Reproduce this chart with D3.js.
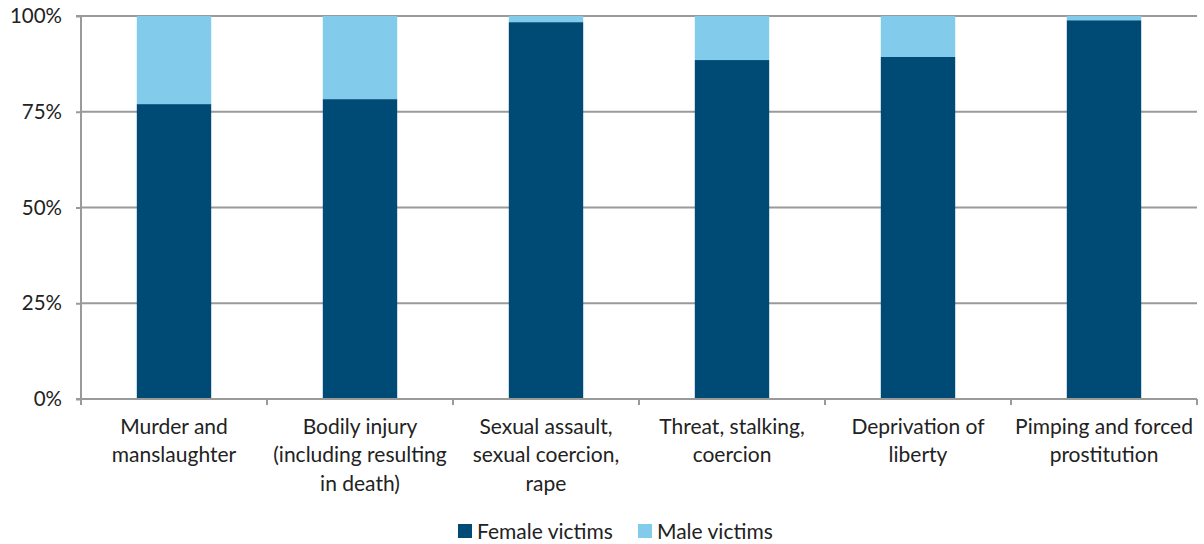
<!DOCTYPE html>
<html><head><meta charset="utf-8">
<script src="https://cdn.jsdelivr.net/npm/d3@7"></script>
<style>body{margin:0;background:#fff;} text{font-family:Lato, "Open Sans", sans-serif;fill:#222;}</style>
</head><body><svg id="c" width="1204" height="544"></svg>
<script>
const categories = [
  ["Murder and","manslaughter"],
  ["Bodily injury","(including resulting","in death)"],
  ["Sexual assault,","sexual coercion,","rape"],
  ["Threat, stalking,","coercion"],
  ["Deprivation of","liberty"],
  ["Pimping and forced","prostitution"]
];
const femaleVictims = [77.0, 78.3, 98.4, 88.5, 89.3, 98.9];
const maleVictims = femaleVictims.map(v => 100 - v);
const seriesNames = ["Female victims","Male victims"];
const colors = ["#004a76","#82cbeb"];
const yTicks = [0,25,50,75,100];

const svg = d3.select("#c");
const m = {l:81, r:1197, t:16, b:399};
const x = d3.scaleBand().domain(d3.range(categories.length)).range([m.l,m.r]).paddingInner(0.6).paddingOuter(0.3);
const xb = d3.scaleBand().domain(d3.range(categories.length)).range([m.l,m.r]);
const y = d3.scaleLinear().domain([0,100]).range([m.b,m.t]);

// gridlines
svg.append("g").selectAll("line").data(yTicks.filter(d=>d>0)).join("line")
  .attr("x1",m.l).attr("x2",m.r).attr("y1",d=>y(d)).attr("y2",d=>y(d))
  .attr("stroke","#9a9a9a").attr("stroke-width",2);

// bars
const stackData = categories.map((c,i)=>({i, f:femaleVictims[i], m:maleVictims[i]}));
const stack = d3.stack().keys(["f","m"])(stackData);
svg.append("g").selectAll("g").data(stack).join("g").attr("fill",(d,k)=>colors[k])
  .selectAll("rect").data(d=>d).join("rect")
  .attr("x",d=>x(d.data.i)).attr("width",x.bandwidth())
  .attr("y",d=>y(d[1])).attr("height",d=>y(d[0])-y(d[1]));

// y axis
const ya = svg.append("g").attr("transform",`translate(${m.l},0)`)
  .call(d3.axisLeft(y).tickValues(yTicks).tickFormat(d=>d+"%").tickSize(5).tickPadding(14));
ya.select(".domain").attr("stroke","#9a9a9a").attr("stroke-width",2).attr("d",`M-5,${m.t}H0V${m.b}H-5`);
ya.selectAll(".tick line").attr("stroke","#9a9a9a").attr("stroke-width",2);
ya.selectAll("text").attr("font-size",20.5).attr("fill","#222").style("font-family","Lato, sans-serif");

// x axis
const xa = svg.append("g").attr("transform",`translate(0,${m.b})`);
xa.append("line").attr("x1",m.l).attr("x2",m.r).attr("stroke","#9a9a9a").attr("stroke-width",2);
const bounds = xb.domain().map(d=>xb(d)).concat([m.r]);
xa.selectAll("line.t").data(bounds).join("line").attr("class","t")
  .attr("x1",d=>d).attr("x2",d=>d).attr("y1",0).attr("y2",6).attr("stroke","#9a9a9a").attr("stroke-width",2);
xa.selectAll("text.lab").data(categories).join("text").attr("class","lab")
  .attr("text-anchor","middle").attr("font-size",21)
  .attr("transform",(d,i)=>`translate(${xb(i)+xb.bandwidth()/2},0)`)
  .selectAll("tspan").data(d=>d).join("tspan")
  .attr("x",0).attr("y",(d,j)=>34.5+j*28.5).text(d=>d);

// legend
const leg = svg.append("g");
const legX = [458, 638];
seriesNames.forEach((n,k)=>{
  leg.append("rect").attr("x",legX[k]).attr("y",524).attr("width",14).attr("height",14).attr("fill",colors[k]);
  leg.append("text").attr("x",legX[k]+19).attr("y",539).attr("font-size",21).text(n);
});
</script></body></html>
